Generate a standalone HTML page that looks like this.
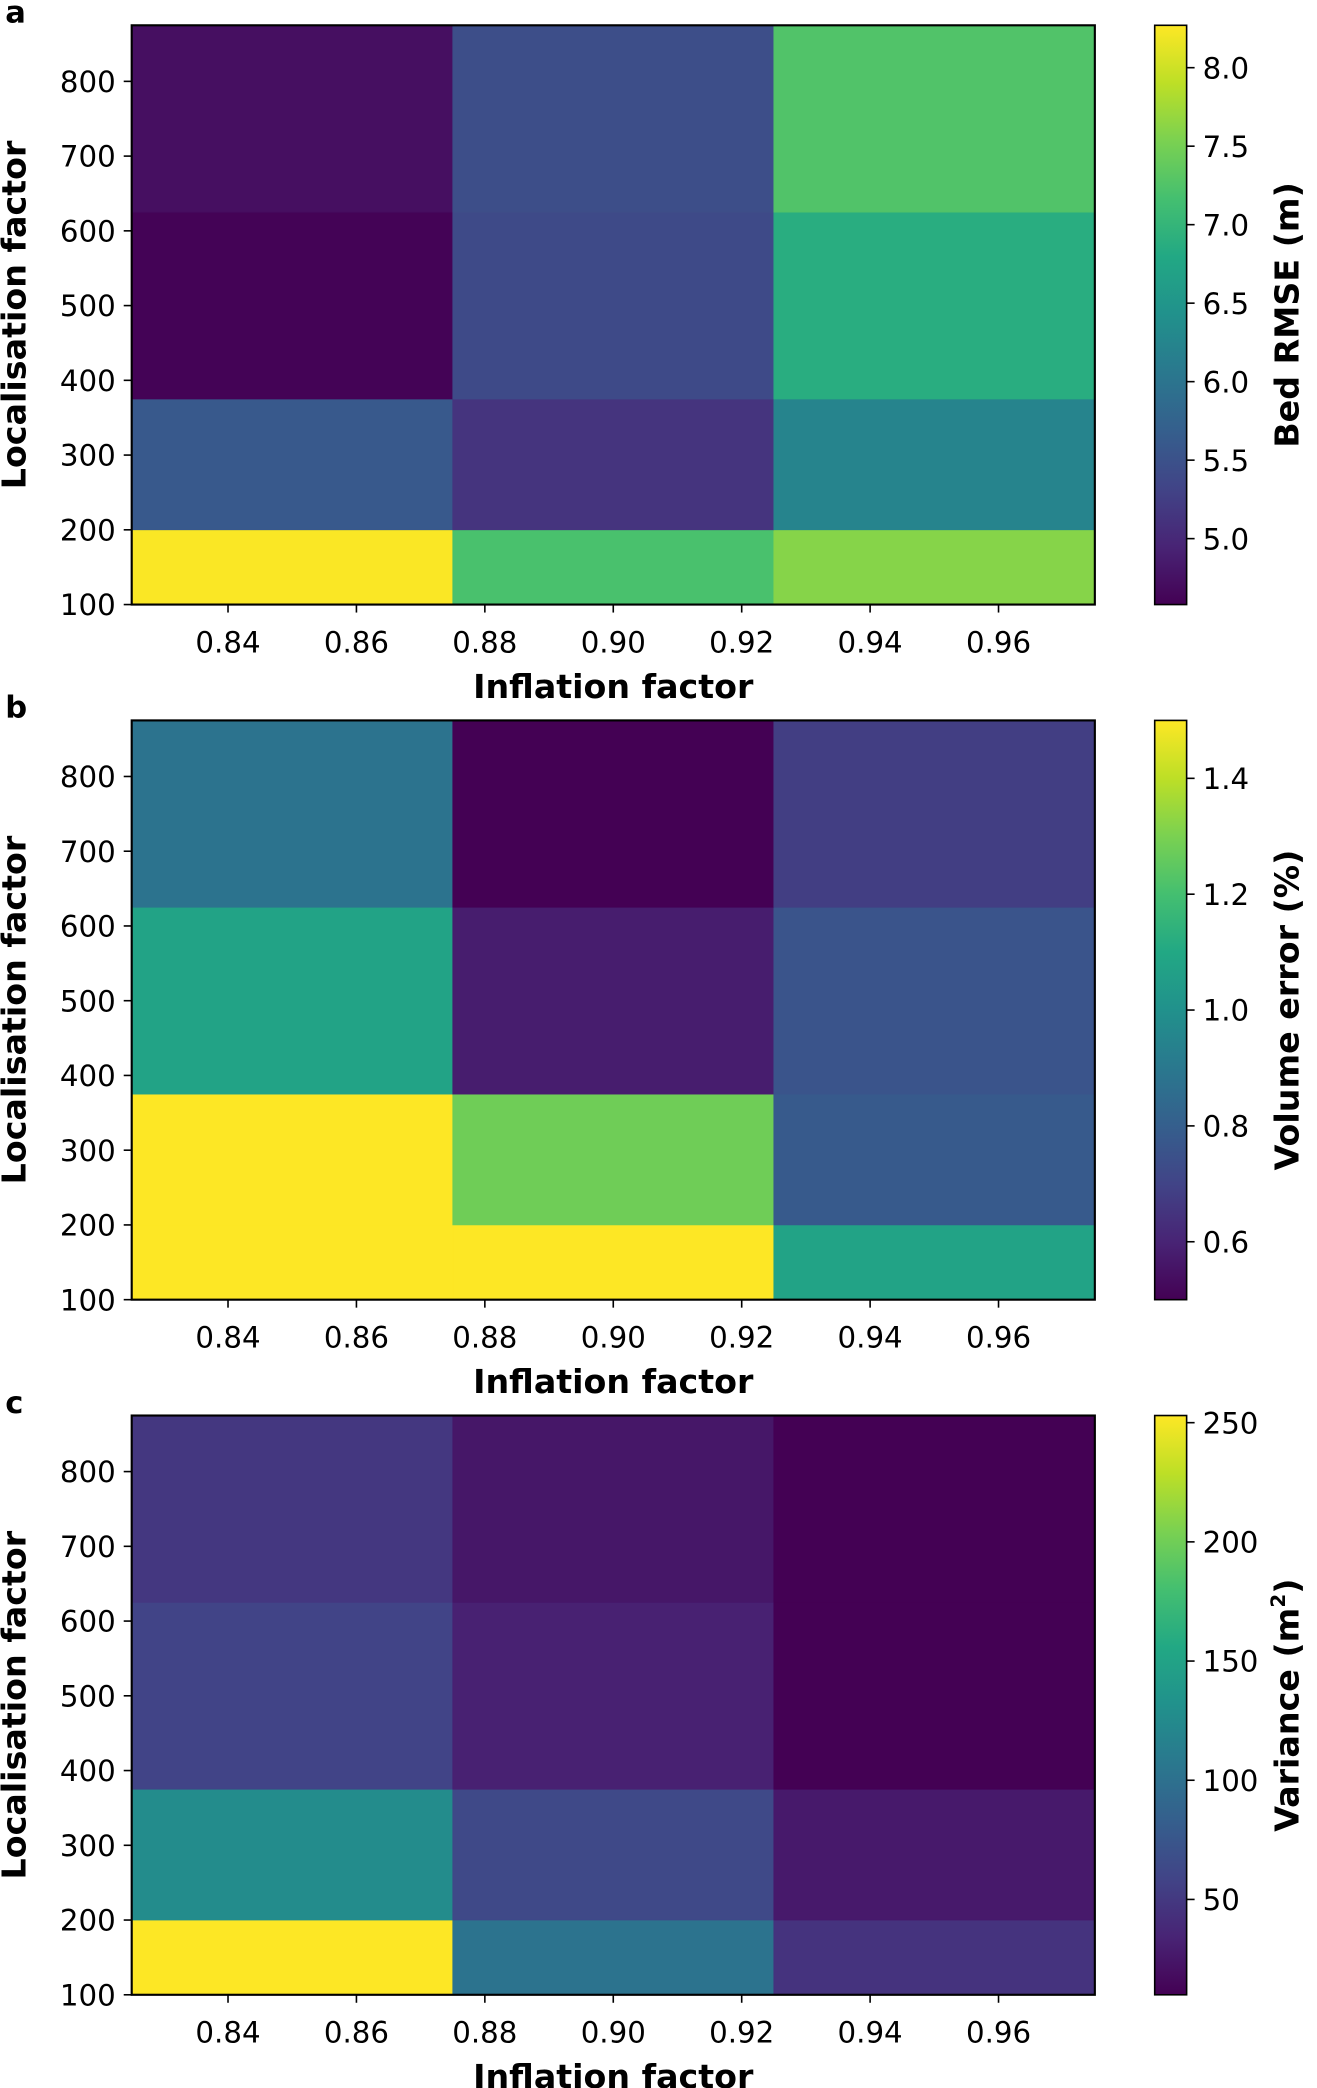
<!DOCTYPE html>
<html><head><meta charset="utf-8"><style>
html,body{margin:0;padding:0;background:#fff;}
svg{display:block;}
text{font-family:"DejaVu Sans","Liberation Sans",sans-serif;fill:#000;}
</style></head><body>
<svg id="fig" width="1317" height="2088" viewBox="0 0 990 1568" preserveAspectRatio="none" xmlns="http://www.w3.org/2000/svg">
<defs>
<linearGradient id="vir" x1="0" y1="1" x2="0" y2="0">
<stop offset="0" stop-color="#440154"/><stop offset="0.1" stop-color="#482475"/><stop offset="0.2" stop-color="#414487"/><stop offset="0.3" stop-color="#355f8d"/><stop offset="0.4" stop-color="#2a788e"/><stop offset="0.5" stop-color="#21918c"/><stop offset="0.6" stop-color="#22a884"/><stop offset="0.7" stop-color="#44bf70"/><stop offset="0.8" stop-color="#7ad151"/><stop offset="0.9" stop-color="#bddf26"/><stop offset="1" stop-color="#fde725"/>
</linearGradient>
</defs>
</svg>
<script>
// shared axes data
const xEdges = [0.825, 0.875, 0.925, 0.975];
const yEdges = [100, 200, 375, 625, 875];
const xTicks = [0.84, 0.86, 0.88, 0.90, 0.92, 0.94, 0.96];
const yTicks = [100, 200, 300, 400, 500, 600, 700, 800];
// panel a: Bed RMSE (rows bottom->top, columns left->right)
const rmseValues = [[8.25, 7.2, 7.6],[5.6, 5.13, 6.24],[4.6, 5.4, 6.87],[4.73, 5.45, 7.25]];
const rmseRange = [4.58, 8.27];
const rmseTicks = [5.0, 5.5, 6.0, 6.5, 7.0, 7.5, 8.0];
// panel b: Volume error
const volValues = [[1.5, 1.5, 1.08],[1.5, 1.28, 0.78],[1.08, 0.58, 0.76],[0.88, 0.5, 0.68]];
const volRange = [0.5, 1.5];
const volTicks = [0.6, 0.8, 1.0, 1.2, 1.4];
// panel c: Variance
const varValues = [[253, 102, 46],[127, 63, 27],[59, 32, 10],[49, 25, 10]];
const varRange = [10, 253];
const varTicks = [50, 100, 150, 200, 250];

const VIR = ["#440154","#482475","#414487","#355f8d","#2a788e","#21918c","#22a884","#44bf70","#7ad151","#bddf26","#fde725"];
function hex(h){return [1,3,5].map(i=>parseInt(h.substr(i,2),16));}
function viridis(t){t=Math.max(0,Math.min(1,t));const p=t*10,i=Math.min(9,Math.floor(p)),f=p-i;const a=hex(VIR[i]),b=hex(VIR[i+1]);return "rgb("+a.map((v,k)=>Math.round(v+(b[k]-v)*f)).join(",")+")";}
const svg=document.getElementById('fig');const NS="http://www.w3.org/2000/svg";
function el(tag,attrs,parent){const e=document.createElementNS(NS,tag);for(const k in attrs)e.setAttribute(k,attrs[k]);(parent||svg).appendChild(e);return e;}

function panel(top,letter,values,range,cTicks,cLabel,fmt,pname){
  const g=el('g',{});
  
  
  const L=99,R=823,T=top,B=top+435;
  const sx=v=>L+(v-xEdges[0])/(xEdges[3]-xEdges[0])*(R-L);
  const sy=v=>B-(v-yEdges[0])/(yEdges[4]-yEdges[0])*(B-T);
  for(let r=0;r<values.length;r++)for(let c=0;c<values[r].length;c++){
    const t=(values[r][c]-range[0])/(range[1]-range[0]);
    const rc=el('rect',{x:sx(xEdges[c]),y:sy(yEdges[r+1]),width:sx(xEdges[c+1])-sx(xEdges[c]),height:sy(yEdges[r])-sy(yEdges[r+1]),fill:viridis(t),stroke:viridis(t),'stroke-width':0.5},g);
    
    
  }
  el('rect',{x:L,y:T,width:R-L,height:B-T,fill:'none',stroke:'#000','stroke-width':1.6},g);
  xTicks.forEach(v=>{const x=sx(v);el('line',{x1:x,x2:x,y1:B,y2:B+6,stroke:'#000','stroke-width':1.2},g);
    const tx=el('text',{x:x,y:B+36,'text-anchor':'middle','font-size':22},g);tx.textContent=v.toFixed(2);
    
    });
  yTicks.forEach(v=>{const y=sy(v);el('line',{x1:L-6,x2:L,y1:y,y2:y,stroke:'#000','stroke-width':1.2},g);
    const tx=el('text',{x:L-12,y:y+8,'text-anchor':'end','font-size':22},g);tx.textContent=v;
    
    });
  const xl=el('text',{x:(L+R)/2,y:B+70,'text-anchor':'middle','font-size':25,'font-weight':'bold'},g);xl.textContent='Inflation factor';
  
  
  const yl=el('text',{x:0,y:0,'text-anchor':'middle','font-size':25,'font-weight':'bold',transform:'translate(19,'+((T+B)/2)+') rotate(-90)'},g);yl.textContent='Localisation factor';
  
  
  const pl=el('text',{x:4,y:T-2,'font-size':23,'font-weight':'bold'},g);pl.textContent=letter;
  
  
  // colorbar
  const CL=868,CR=892;
  const cb=el('rect',{x:CL,y:T,width:CR-CL,height:B-T,fill:'url(#vir)',stroke:'#000','stroke-width':1.2},g);
  
  
  const cy=v=>B-(v-range[0])/(range[1]-range[0])*(B-T);
  cTicks.forEach(v=>{const y=cy(v);el('line',{x1:CR,x2:CR+6,y1:y,y2:y,stroke:'#000','stroke-width':1.2},g);
    const tx=el('text',{x:CR+12,y:y+8,'font-size':22},g);tx.textContent=fmt(v);
    
    });
  const cl=el('text',{x:0,y:0,'text-anchor':'middle','font-size':25,'font-weight':'bold',transform:'translate(976,'+((T+B)/2)+') rotate(-90)'},g);
  cl.innerHTML=cLabel;
  
  
}
panel(19,'a',rmseValues,rmseRange,rmseTicks,'Bed RMSE (m)',v=>v.toFixed(1),'bed-rmse');
panel(541,'b',volValues,volRange,volTicks,'Volume error (%)',v=>v.toFixed(1),'volume-error');
panel(1063,'c',varValues,varRange,varTicks,'Variance (m<tspan font-size="15" dy="-10">2</tspan><tspan dy="10">)</tspan>',v=>String(v),'variance');
</script>
</body></html>
